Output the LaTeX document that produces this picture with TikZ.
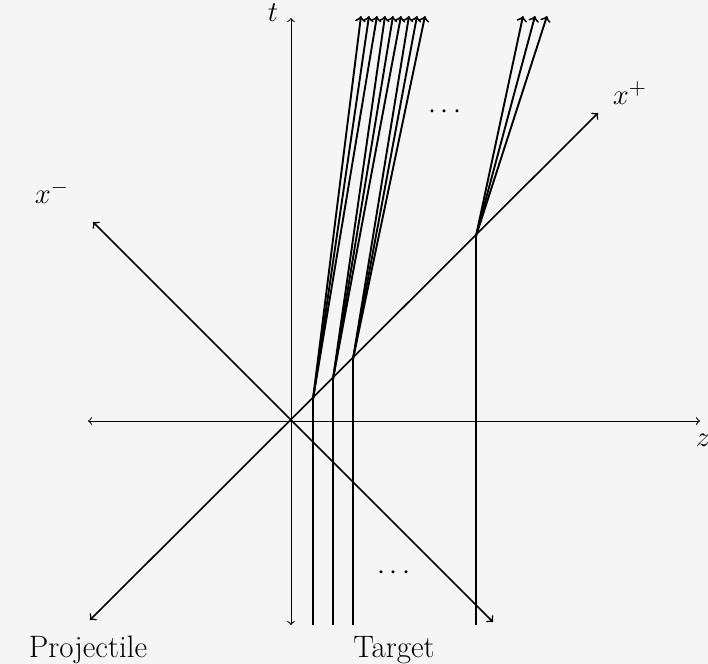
\documentclass[tikz,border=0pt]{standalone}
\usetikzlibrary{arrows}
\definecolor{bgcol}{RGB}{244,245,244}
\begin{document}
\begin{tikzpicture}[x=0.5pt,y=-0.5pt,
  axis/.style={line width=0.5pt,<->,>=to},
  lightcone/.style={line width=0.8pt,<->,>=to},
  vline/.style={line width=0.6pt},
  fanarrow/.style={line width=0.95pt,->,>=to},
  lbl/.style={font=\fontsize{15.5}{18}\selectfont,inner sep=0pt}]
\fill[bgcol] (0,0) rectangle (708,664);
\useasboundingbox (0,0) rectangle (708,664);
% key points
\coordinate (O) at (291,421);
\coordinate (tbot) at (291,625);
\coordinate (ttop) at (291,18);
\coordinate (zl) at (88,421);
\coordinate (zr) at (700,421);
\coordinate (mtop) at (93,222);
\coordinate (mbot) at (493,622);
\coordinate (pbot) at (90,620);
\coordinate (ptop) at (598,113);
% axes
\draw[axis] (tbot) -- (ttop);
\draw[axis] (zl) -- (zr);
\draw[lightcone] (mbot) -- (mtop);
\draw[lightcone] (pbot) -- (ptop);
% target lines and fans
\foreach \i/\xx/\tp/\sp in {1/313/361/8,2/333/385/8,3/353/409/8,4/476/523/12}{
  \coordinate (B\i) at (\xx,625);
  \pgfmathsetmacro{\yy}{421-(\xx-291)}
  \coordinate (P\i) at (\xx,\yy);
  \draw[vline] (B\i) -- (P\i);
  \foreach \j/\k in {1/0,2/1,3/2}{
    \coordinate (T\i\j) at (\tp+\k*\sp,16);
    \draw[fanarrow] (P\i) -- (T\i\j);
  }
}
% labels
\node[lbl] (tl) at (273,13) {$t$};
\node[lbl] (zlab) at (703,440) {$z$};
\node[lbl] (xpl) at (630,93) {$x^+$};
\node[lbl] (xml) at (52,192) {$x^-$};
\node[lbl] (dtop) at (445,112) {$\cdots$};
\node[lbl] (dbot) at (394,573) {$\cdots$};
\node[lbl,anchor=base] (proj) at (88,657) {Projectile};
\node[lbl,anchor=base] (targ) at (394,657) {Target};
\end{tikzpicture}
\end{document}
